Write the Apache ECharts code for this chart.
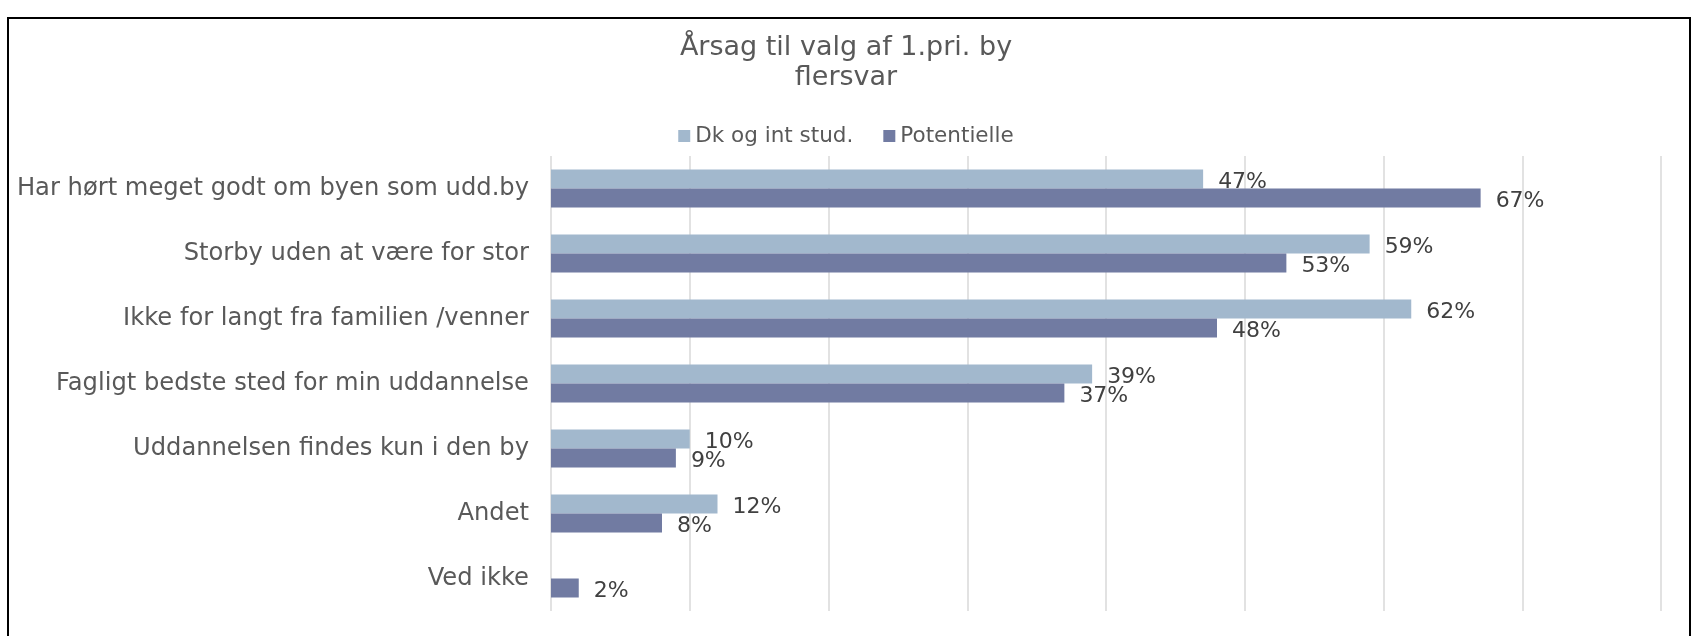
<!DOCTYPE html>
<html>
<head>
<meta charset="utf-8">
<script src="https://cdn.jsdelivr.net/npm/echarts@6/dist/echarts.min.js"></script>
<style>
  html, body { margin: 0; padding: 0; background: #fff; }
  #main { width: 1692px; height: 636px; }
</style>
</head>
<body>
<div id="main"></div>
<script>
// data
var categories = [
    'Har hørt meget godt om byen som udd.by',
    'Storby uden at være for stor',
    'Ikke for langt fra familien /venner',
    'Fagligt bedste sted for min uddannelse',
    'Uddannelsen findes kun i den by',
    'Andet',
    'Ved ikke'
];
var dkStud = [47, 59, 62, 39, 10, 12, '-'];
var potentielle = [67, 53, 48, 37, 9, 8, 2];
var seriesNames = ['Dk og int stud.', 'Potentielle'];

var font = 'DejaVu Sans';

var myChart = echarts.init(document.getElementById('main'));

var labelStyle = {
    show: true,
    position: 'right',
    distance: 15,
    offset: [0, 3],
    formatter: '{c}%',
    color: '#404040',
    fontFamily: font,
    fontSize: 22
};

var option = {
    animation: false,
    backgroundColor: '#fff',
    title: {
        text: 'Årsag til valg af 1.pri. by\nflersvar',
        left: 'center',
        top: 28,
        textStyle: {
            color: '#595959',
            fontFamily: font,
            fontWeight: 'normal',
            fontSize: 27,
            lineHeight: 30
        }
    },
    legend: {
        data: seriesNames,
        top: 120,
        left: 'center',
        itemWidth: 12,
        itemHeight: 12,
        itemGap: 30,
        icon: 'rect',
        textStyle: {
            color: '#595959',
            fontFamily: font,
            fontSize: 21.5
        }
    },
    grid: {
        left: 551,
        right: 31,
        top: 156,
        bottom: 25,
        containLabel: false
    },
    xAxis: {
        type: 'value',
        min: 0,
        max: 80,
        interval: 10,
        axisLabel: { show: false },
        axisLine: { show: false },
        axisTick: { show: false },
        splitLine: { lineStyle: { color: '#d9d9d9', width: 1.5 } }
    },
    yAxis: {
        type: 'category',
        data: categories,
        inverse: true,
        axisLine: { show: false },
        axisTick: { show: false },
        axisLabel: {
            margin: 22,
            color: '#595959',
            fontFamily: font,
            fontSize: 24.2
        }
    },
    series: [
        {
            name: seriesNames[0],
            type: 'bar',
            data: dkStud,
            barWidth: 19,
            barGap: '0%',
            itemStyle: { color: '#a2b8cd' },
            label: labelStyle
        },
        {
            name: seriesNames[1],
            type: 'bar',
            data: potentielle,
            barWidth: 19,
            barGap: '0%',
            itemStyle: { color: '#717ba2' },
            label: labelStyle
        }
    ],
    graphic: [
        {
            type: 'rect',
            shape: { x: 8, y: 18, width: 1682, height: 660 },
            style: { fill: 'none', stroke: '#000', lineWidth: 2 },
            silent: true
        }
    ]
};

myChart.setOption(option);
</script>
</body>
</html>
